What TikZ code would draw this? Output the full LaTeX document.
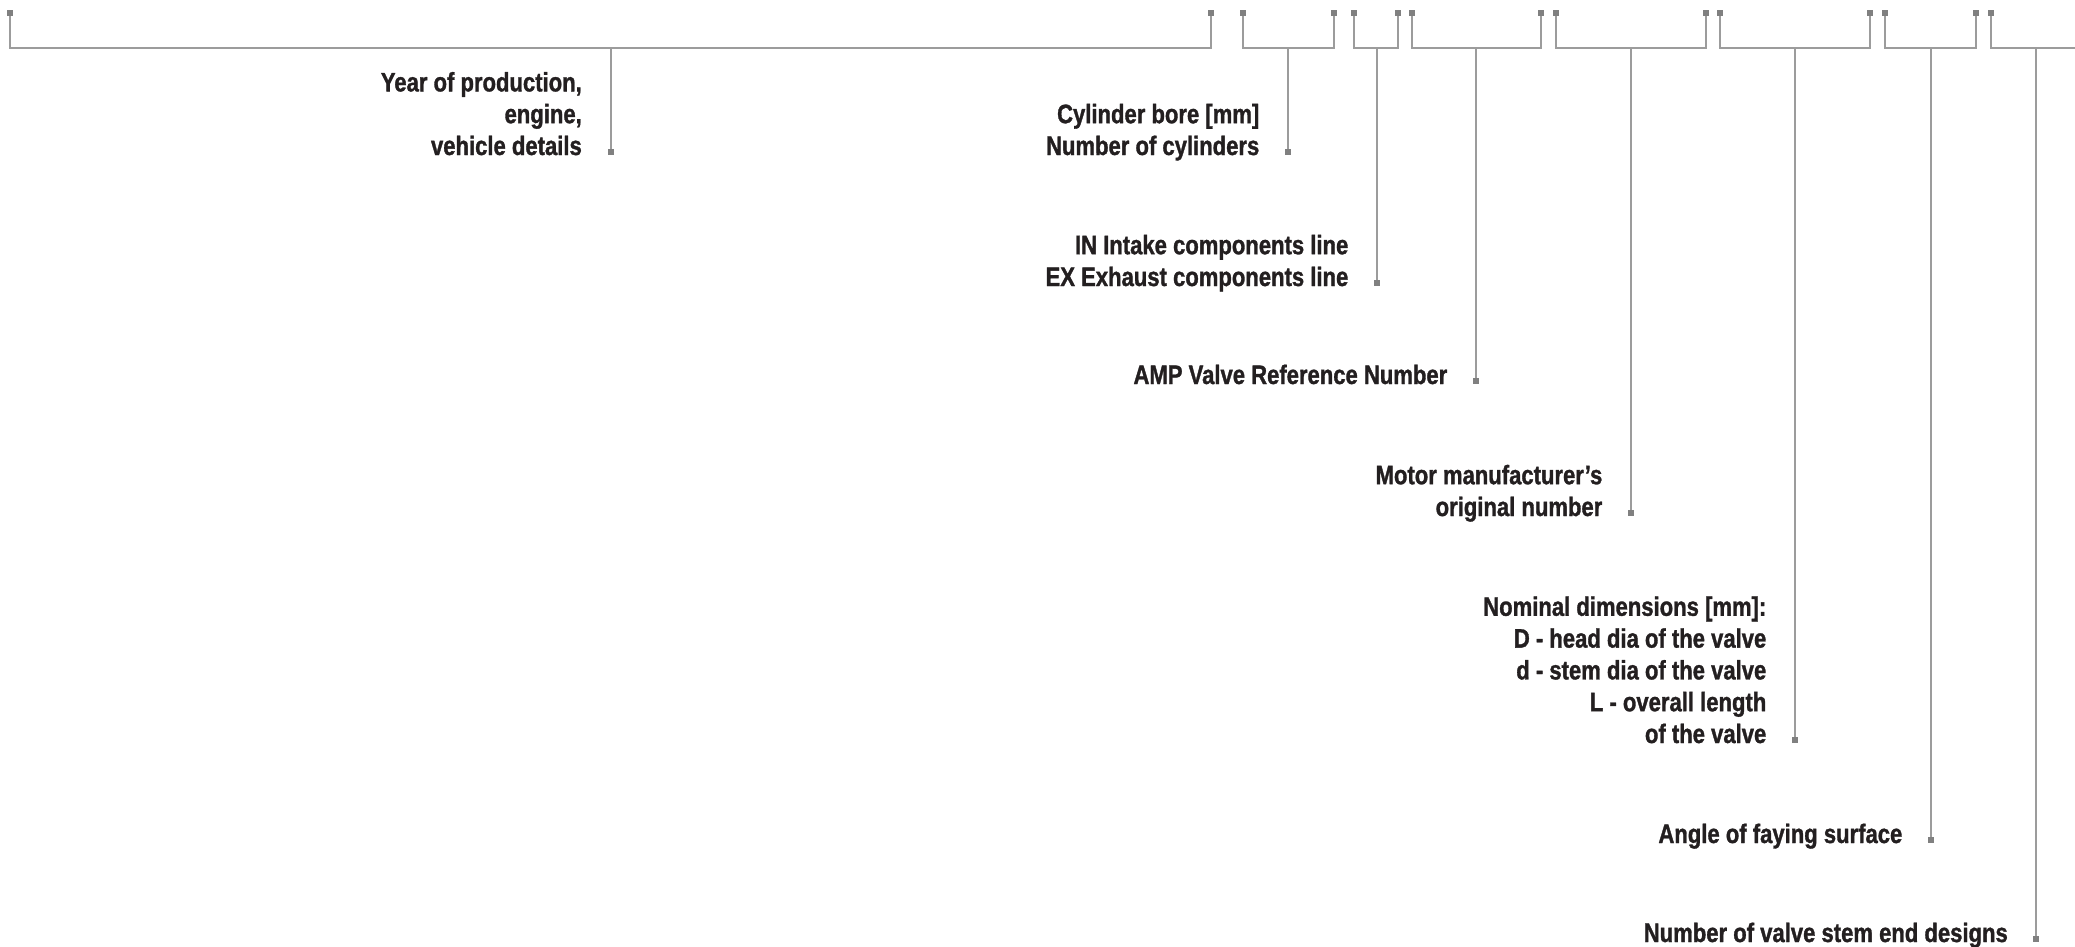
\documentclass[tikz,border=0pt]{standalone}
\usepackage{fontspec}
\newfontfamily\lblfam{Liberation Sans}[FakeStretch=0.826, BoldFeatures={FakeBold=1.2}]
\definecolor{linegray}{HTML}{9C9C9C}
\definecolor{sqgray}{HTML}{808080}
\definecolor{txt}{HTML}{231F20}
\tikzset{
  ln/.style={draw=linegray, line width=2pt},
  sq/.style={rectangle, fill=sqgray, draw=none, minimum size=6pt, inner sep=0pt, outer sep=0pt},
  lbl/.style={font={\lblfam\bfseries\fontsize{26.7}{31.8}\selectfont}, text=txt, align=right, anchor=base east, inner sep=0pt}
}
\begin{document}
\begin{tikzpicture}[x=1pt,y=-1pt]
\useasboundingbox (0,0) rectangle (2075,946);
% top squares
\node[sq] (b1l) at (10,13) {};
\node[sq] (b1r) at (1211,13) {};
\node[sq] (b2l) at (1242.5,13) {};
\node[sq] (b2r) at (1334,13) {};
\node[sq] (b3l) at (1354,13) {};
\node[sq] (b3r) at (1397.5,13) {};
\node[sq] (b4l) at (1412,13) {};
\node[sq] (b4r) at (1540.5,13) {};
\node[sq] (b5l) at (1555.5,13) {};
\node[sq] (b5r) at (1705.5,13) {};
\node[sq] (b6l) at (1719.5,13) {};
\node[sq] (b6r) at (1870,13) {};
\node[sq] (b7l) at (1885,13) {};
\node[sq] (b7r) at (1975.5,13) {};
\node[sq] (b8l) at (1991,13) {};
\coordinate (b8r) at (2075,47.6);
% stem tops
\coordinate (h1) at (610.5,47.6);
\coordinate (h2) at (1287.5,47.6);
\coordinate (h3) at (1376.5,47.6);
\coordinate (h4) at (1475.5,47.6);
\coordinate (h5) at (1630.5,47.6);
\coordinate (h6) at (1794.5,47.6);
\coordinate (h7) at (1930.5,47.6);
\coordinate (h8) at (2036,47.6);
% stem ends
\node[sq] (e1) at (610.5,152) {};
\node[sq] (e2) at (1287.5,152) {};
\node[sq] (e3) at (1376.5,283) {};
\node[sq] (e4) at (1475.5,381) {};
\node[sq] (e5) at (1630.5,513) {};
\node[sq] (e6) at (1794.5,740) {};
\node[sq] (e7) at (1930.5,840) {};
\node[sq] (e8) at (2036,939) {};
% brackets
\draw[ln] (b1l) |- (h1) -| (b1r);
\draw[ln] (b2l) |- (h2) -| (b2r);
\draw[ln] (b3l) |- (h3) -| (b3r);
\draw[ln] (b4l) |- (h4) -| (b4r);
\draw[ln] (b5l) |- (h5) -| (b5r);
\draw[ln] (b6l) |- (h6) -| (b6r);
\draw[ln] (b7l) |- (h7) -| (b7r);
\draw[ln] (b8l) |- (h8) -- (b8r);
% stems
\foreach \i in {1,...,8} {\draw[ln] (h\i) -- (e\i);}
% labels (base anchor = baseline of last line)
\node[lbl] (t1) at (582,155) {Year of production,\\engine,\\vehicle details};
\node[lbl] (t2) at (1259.5,155) {Cylinder bore [mm]\\Number of cylinders};
\node[lbl] (t3) at (1348.5,286) {IN Intake components line\\EX Exhaust components line};
\node[lbl] (t4) at (1447.5,384) {AMP Valve Reference Number};
\node[lbl] (t5) at (1602.5,516) {Motor manufacturer’s\\original number};
\node[lbl] (t6) at (1766.5,743) {Nominal dimensions [mm]:\\D - head dia of the valve\\d - stem dia of the valve\\L - overall length\\of the valve};
\node[lbl] (t7) at (1902.5,843) {Angle of faying surface};
\node[lbl] (t8) at (2008,942) {Number of valve stem end designs};
\end{tikzpicture}
\end{document}
